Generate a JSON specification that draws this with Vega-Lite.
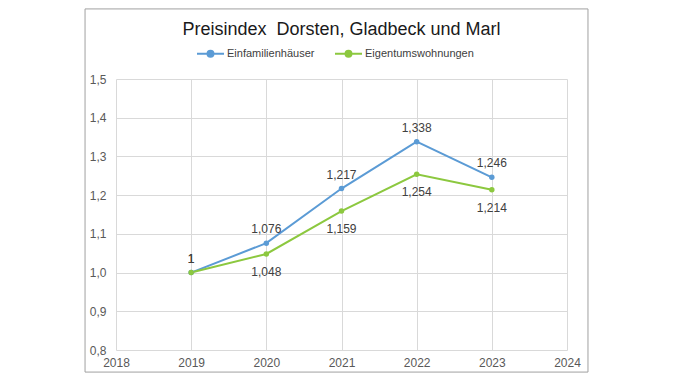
{
  "$schema": "https://vega.github.io/schema/vega-lite/v6.json",
  "autosize": "none",
  "width": 451,
  "height": 271,
  "padding": {"left": 116, "top": 79, "right": 111, "bottom": 31},
  "background": "white",
  "config": {
    "font": "Liberation Sans",
    "view": {"stroke": null},
    "locale": {"number": {"decimal": ",", "thousands": ".", "grouping": [3], "currency": ["", " €"]}}
  },
  "title": {
    "text": "Preisindex\u00a0 Dorsten, Gladbeck und Marl",
    "fontSize": 18,
    "fontWeight": "normal",
    "color": "#1a1a1a",
    "anchor": "middle",
    "offset": -31
  },
  "layer": [
    {
      "data": {
        "values": [
          {"year": 2019, "series": "Einfamilienhäuser", "value": 1},
          {"year": 2020, "series": "Einfamilienhäuser", "value": 1.076},
          {"year": 2021, "series": "Einfamilienhäuser", "value": 1.217},
          {"year": 2022, "series": "Einfamilienhäuser", "value": 1.338},
          {"year": 2023, "series": "Einfamilienhäuser", "value": 1.246},
          {"year": 2019, "series": "Eigentumswohnungen", "value": 1},
          {"year": 2020, "series": "Eigentumswohnungen", "value": 1.048},
          {"year": 2021, "series": "Eigentumswohnungen", "value": 1.159},
          {"year": 2022, "series": "Eigentumswohnungen", "value": 1.254},
          {"year": 2023, "series": "Eigentumswohnungen", "value": 1.214}
        ]
      },
      "encoding": {
        "x": {
          "field": "year",
          "type": "quantitative",
          "scale": {"domain": [2018, 2024], "nice": false, "zero": false},
          "axis": {
            "title": null,
            "values": [2018, 2019, 2020, 2021, 2022, 2023, 2024],
            "format": "d",
            "grid": true,
            "gridColor": "#d9d9d9",
            "domain": false,
            "ticks": false,
            "labelPadding": 7,
            "labelFontSize": 12,
            "labelColor": "#595959",
            "labelFlush": false,
            "labelOverlap": false
          }
        },
        "y": {
          "field": "value",
          "type": "quantitative",
          "scale": {"domain": [0.8, 1.5], "nice": false, "zero": false},
          "axis": {
            "title": null,
            "values": [0.8, 0.9, 1.0, 1.1, 1.2, 1.3, 1.4, 1.5],
            "format": ".1f",
            "grid": true,
            "gridColor": "#d9d9d9",
            "domain": false,
            "ticks": false,
            "labelPadding": 10,
            "labelFontSize": 12,
            "labelColor": "#595959",
            "labelOverlap": false
          }
        }
      },
      "layer": [
        {
          "mark": {"type": "line", "strokeWidth": 2},
          "encoding": {
            "color": {
              "field": "series",
              "type": "nominal",
              "scale": {"domain": ["Einfamilienhäuser", "Eigentumswohnungen"], "range": ["#5b9bd5", "#8cc83f"]},
              "legend": {
                "title": null,
                "orient": "none",
                "direction": "horizontal",
                "legendX": 80,
                "legendY": -40,
                "symbolType": "M-1,0H1M-0.22,0A0.22,0.22 0 1,0 0.22,0A0.22,0.22 0 1,0 -0.22,0Z",
                "symbolSize": 729,
                "symbolStrokeWidth": 2,
                "labelFontSize": 11,
                "labelColor": "#404040",
                "columnPadding": 16,
                "labelOffset": 2
              }
            }
          }
        },
        {
          "mark": {"type": "point", "filled": true, "size": 30, "opacity": 1},
          "encoding": {
            "color": {"field": "series", "type": "nominal"}
          }
        },
        {
          "transform": [{"filter": "datum.series == 'Einfamilienhäuser'"}],
          "mark": {"type": "text", "dy": -14, "fontSize": 12, "color": "#404040"},
          "encoding": {
            "text": {"field": "value", "type": "quantitative", "format": ".3~f"}
          }
        },
        {
          "transform": [{"filter": "datum.series == 'Eigentumswohnungen' && datum.year > 2019"}],
          "mark": {"type": "text", "dy": 18, "fontSize": 12, "color": "#404040"},
          "encoding": {
            "text": {"field": "value", "type": "quantitative", "format": ".3~f"}
          }
        },
        {
          "transform": [{"filter": "datum.series == 'Eigentumswohnungen' && datum.year == 2019"}],
          "mark": {"type": "text", "dy": -14, "fontSize": 12, "color": "#404040"},
          "encoding": {
            "text": {"field": "value", "type": "quantitative", "format": ".3~f"}
          }
        }
      ]
    },
    {
      "data": {"values": [{"frame": 1}]},
      "mark": {"type": "rect", "fill": "transparent", "stroke": "#a0a0a0", "strokeWidth": 1},
      "encoding": {
        "x": {
          "datum": 2017.588,
          "type": "quantitative",
          "axis": {
            "title": null,
            "values": [2018, 2019, 2020, 2021, 2022, 2023, 2024],
            "format": "d",
            "grid": true,
            "gridColor": "#d9d9d9",
            "domain": false,
            "ticks": false,
            "labelPadding": 7,
            "labelFontSize": 12,
            "labelColor": "#595959",
            "labelFlush": false,
            "labelOverlap": false
          }
        },
        "x2": {"datum": 2024.279},
        "y": {
          "datum": 0.743,
          "type": "quantitative",
          "axis": {
            "title": null,
            "values": [0.8, 0.9, 1.0, 1.1, 1.2, 1.3, 1.4, 1.5],
            "format": ".1f",
            "grid": true,
            "gridColor": "#d9d9d9",
            "domain": false,
            "ticks": false,
            "labelPadding": 10,
            "labelFontSize": 12,
            "labelColor": "#595959",
            "labelOverlap": false
          }
        },
        "y2": {"datum": 1.681}
      }
    }
  ]
}
